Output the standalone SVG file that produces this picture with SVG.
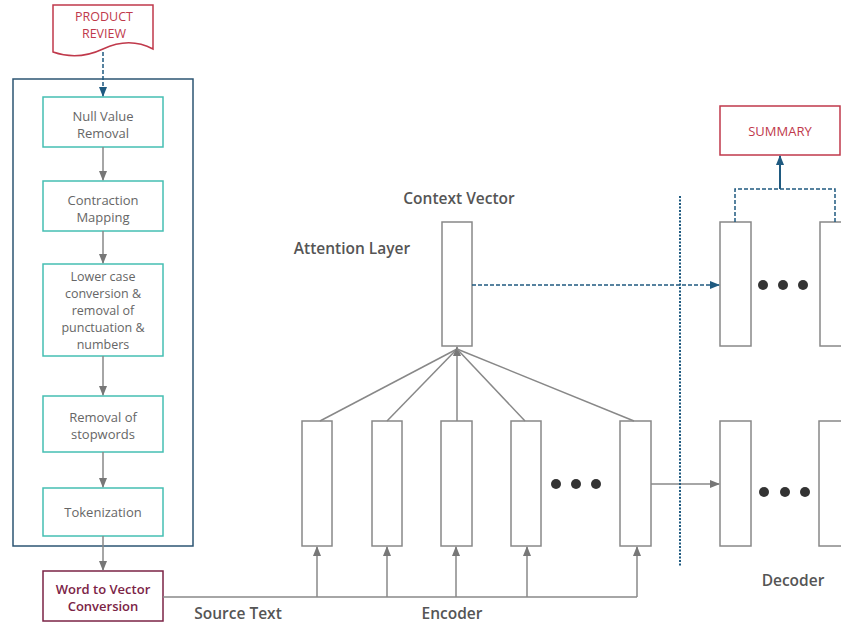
<svg xmlns="http://www.w3.org/2000/svg" width="841" height="624" viewBox="0 0 841 624">
<defs>
<marker id="ag" markerWidth="10" markerHeight="8" refX="9" refY="4" orient="auto" markerUnits="userSpaceOnUse"><path d="M0,0 L10,4 L0,8 Z" fill="#777"/></marker>
<marker id="ab" markerWidth="10" markerHeight="8" refX="9" refY="4" orient="auto" markerUnits="userSpaceOnUse"><path d="M0,0 L10,4 L0,8 Z" fill="#1f5a80"/></marker>
<style>
text{font-family:"Open Sans","Noto Sans","Liberation Sans",sans-serif;text-anchor:middle}
.step{fill:#fff;stroke:#45bfb3;stroke-width:1.5}
.st{font-size:13px;fill:#666}
.st2{font-size:12.5px;fill:#666}
.vec{fill:#fff;stroke:#888;stroke-width:1.5}
.g{stroke:#888;stroke-width:1.5;fill:none}
.ga{stroke:#888;stroke-width:1.5;fill:none;marker-end:url(#ag)}
.bd{stroke:#1f5a80;stroke-width:1.5;fill:none;stroke-dasharray:4,2}
.lbl{font-size:15.5px;fill:#555;font-weight:600}
.dot{fill:#333}
</style>
</defs>
<g id="container"><rect x="13" y="79" width="180" height="467" fill="none" stroke="#2d5573" stroke-width="1.5"/></g>
<g id="product-review">
<path d="M53,5 H153 V49 C136,40 120,41 103,49 C86,57 70,58 53,52 Z" fill="#fff" stroke="#c0394b" stroke-width="1.5"/>
<text x="104" y="21" font-size="12.5" fill="#c0394b">PRODUCT</text>
<text x="104" y="38" font-size="12.5" fill="#c0394b">REVIEW</text>
</g>
<g id="null-value"><rect class="step" x="43" y="97" width="120" height="50"/><text class="st" x="103" y="121">Null Value</text><text class="st" x="103" y="138">Removal</text></g>
<g id="contraction"><rect class="step" x="43" y="181" width="120" height="50"/><text class="st" x="103" y="205">Contraction</text><text class="st" x="103" y="222">Mapping</text></g>
<g id="lowercase"><rect class="step" x="43" y="264" width="120" height="92"/><text class="st2" x="103" y="281">Lower case</text><text class="st2" x="103" y="298">conversion &amp;</text><text class="st2" x="103" y="315">removal of</text><text class="st2" x="103" y="332">punctuation &amp;</text><text class="st2" x="103" y="349">numbers</text></g>
<g id="stopwords"><rect class="step" x="43" y="396" width="120" height="56"/><text class="st" x="103" y="422">Removal of</text><text class="st" x="103" y="439">stopwords</text></g>
<g id="tokenization"><rect class="step" x="43" y="488" width="120" height="48"/><text class="st" x="103" y="517">Tokenization</text></g>
<g id="word2vec"><rect x="43" y="571" width="120" height="50" fill="#fff" stroke="#7b2346" stroke-width="1.5"/><text x="103" y="594" font-size="13" font-weight="600" fill="#7b2346">Word to Vector</text><text x="103" y="611" font-size="13" font-weight="600" fill="#7b2346">Conversion</text></g>
<g id="enc1"><rect class="vec" x="302" y="421" width="30" height="125"/></g>
<g id="enc2"><rect class="vec" x="372" y="421" width="30" height="125"/></g>
<g id="enc3"><rect class="vec" x="441" y="421" width="31" height="125"/></g>
<g id="enc4"><rect class="vec" x="511" y="421" width="30" height="125"/></g>
<g id="enc5"><rect class="vec" x="620" y="421" width="31" height="125"/></g>
<g id="enc-dots"><circle class="dot" cx="556" cy="484" r="5"/><circle class="dot" cx="576" cy="484" r="5"/><circle class="dot" cx="596" cy="484" r="5"/></g>
<g id="attention"><rect class="vec" x="442" y="222" width="30" height="124"/></g>
<g id="dec-top1"><rect class="vec" x="720" y="222" width="31" height="124"/></g>
<g id="dec-top2"><rect class="vec" x="820" y="222" width="30" height="124"/></g>
<g id="dec-top-dots"><circle class="dot" cx="763" cy="285" r="5"/><circle class="dot" cx="783" cy="285" r="5"/><circle class="dot" cx="803" cy="285" r="5"/></g>
<g id="dec-bot1"><rect class="vec" x="720" y="421" width="31" height="125"/></g>
<g id="dec-bot2"><rect class="vec" x="819" y="421" width="30" height="125"/></g>
<g id="dec-bot-dots"><circle class="dot" cx="764" cy="492" r="5"/><circle class="dot" cx="785" cy="492" r="5"/><circle class="dot" cx="805" cy="492" r="5"/></g>
<g id="summary"><rect x="720" y="106" width="120" height="49" fill="#fff" stroke="#c0394b" stroke-width="1.5"/><text x="780" y="136" font-size="13" fill="#c0394b">SUMMARY</text></g>
<g id="labels">
<text class="lbl" x="459" y="204">Context Vector</text>
<text class="lbl" x="352" y="254">Attention Layer</text>
<text class="lbl" x="238" y="619">Source Text</text>
<text class="lbl" x="452" y="619">Encoder</text>
<text class="lbl" x="793" y="586">Decoder</text>
</g>
<g id="connectors">
<line class="bd" x1="103" y1="52" x2="103" y2="96" stroke-dasharray="2,1.5" marker-end="url(#ab)" stroke-width="2"/>
<line class="ga" x1="103" y1="147" x2="103" y2="180"/>
<line class="ga" x1="103" y1="231" x2="103" y2="263"/>
<line class="ga" x1="103" y1="356" x2="103" y2="395"/>
<line class="ga" x1="103" y1="452" x2="103" y2="487"/>
<line class="ga" x1="103" y1="536" x2="103" y2="570"/>
<polyline class="g" points="163,597 637,597"/>
<line class="ga" x1="317" y1="597" x2="317" y2="547"/>
<line class="ga" x1="387" y1="597" x2="387" y2="547"/>
<line class="ga" x1="456" y1="597" x2="456" y2="547"/>
<line class="ga" x1="527" y1="597" x2="527" y2="547"/>
<line class="ga" x1="637" y1="597" x2="637" y2="547"/>
<line class="g" x1="320" y1="421" x2="457" y2="349"/>
<line class="g" x1="387" y1="421" x2="457" y2="349"/>
<line class="ga" x1="457" y1="421" x2="457" y2="347"/>
<line class="g" x1="525" y1="421" x2="457" y2="349"/>
<line class="g" x1="634" y1="421" x2="457" y2="349"/>
<line class="ga" x1="651" y1="484" x2="719" y2="484"/>
<line class="bd" x1="472" y1="285" x2="719" y2="285" marker-end="url(#ab)"/>
<line x1="680" y1="196" x2="680" y2="567" stroke="#1f5a80" stroke-width="2" stroke-dasharray="2,1.5"/>
<polyline class="bd" points="735,222 735,189 835,189 835,222"/>
<line x1="780" y1="189" x2="780" y2="156" stroke="#1f5a80" stroke-width="2" marker-end="url(#ab)"/>
</g>
</svg>
